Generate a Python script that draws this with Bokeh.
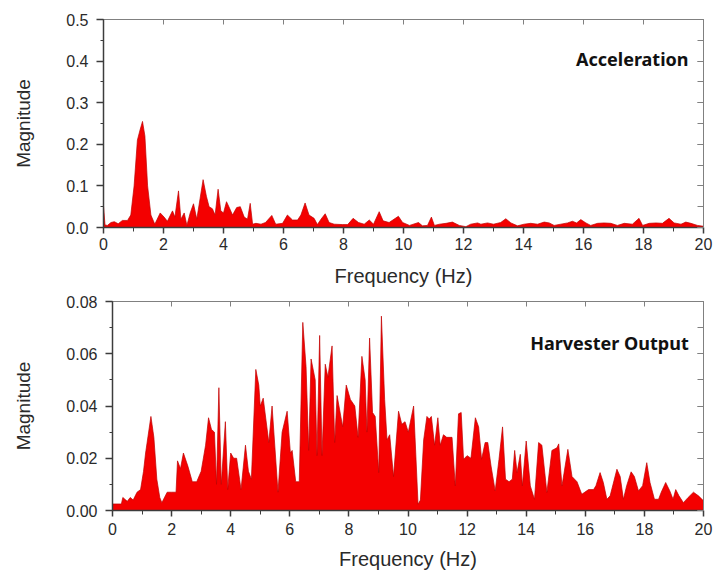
from bokeh.plotting import figure
from bokeh.models import LinearAxis, SingleIntervalTicker, PrintfTickFormatter, Label, Range1d
from bokeh.embed import file_html
from bokeh.resources import INLINE

# ---- Acceleration spectrum (top) ----
acc_freq = [0, 0.05, 0.13, 0.25, 0.36, 0.49, 0.63, 0.8, 0.91, 1.02, 1.13, 1.22, 1.3, 1.38, 1.47,
            1.58, 1.71, 1.89, 2.02, 2.13, 2.3, 2.38, 2.5, 2.58, 2.69, 2.78, 2.89, 3.0, 3.11, 3.22,
            3.32, 3.43, 3.52, 3.63, 3.72, 3.82, 3.91, 4.0, 4.1, 4.21, 4.3, 4.44, 4.56, 4.69, 4.8,
            4.89, 4.97, 5.08, 5.25, 5.4, 5.61, 5.74, 5.97, 6.13, 6.3, 6.47, 6.58, 6.72, 6.85, 7.02,
            7.13, 7.25, 7.39, 7.52, 7.69, 7.97, 8.14, 8.32, 8.5, 8.69, 8.86, 9.0, 9.19, 9.32, 9.52,
            9.83, 9.97, 10.2, 10.5, 10.63, 10.8, 10.93, 11.03, 11.2, 11.42, 11.63, 11.86, 12.08,
            12.24, 12.47, 12.58, 12.8, 13.0, 13.24, 13.41, 13.58, 13.8, 14.02, 14.24, 14.47, 14.69,
            14.86, 15.02, 15.24, 15.47, 15.63, 15.77, 15.91, 16.08, 16.24, 16.47, 16.69, 16.91,
            17.13, 17.36, 17.63, 17.85, 17.97, 18.19, 18.42, 18.63, 18.85, 19.02, 19.25, 19.41,
            19.58, 19.8, 20.0]
acc_mag = [0.052, 0.006, 0.005, 0.012, 0.014, 0.009, 0.017, 0.017, 0.03, 0.10, 0.21, 0.235, 0.255, 0.22, 0.10,
           0.03, 0.008, 0.035, 0.025, 0.015, 0.04, 0.025, 0.088, 0.02, 0.035, 0.005, 0.035, 0.057, 0.02, 0.07,
           0.115, 0.075, 0.05, 0.045, 0.03, 0.092, 0.04, 0.035, 0.062, 0.045, 0.03, 0.048, 0.05, 0.025, 0.02,
           0.058, 0.008, 0.01, 0.008, 0.012, 0.029, 0.008, 0.01, 0.03, 0.018, 0.018, 0.03, 0.059, 0.03, 0.022,
           0.007, 0.02, 0.033, 0.012, 0.008, 0.007, 0.007, 0.022, 0.012, 0.008, 0.018, 0.008, 0.038, 0.016, 0.012,
           0.027, 0.012, 0.005, 0.012, 0.004, 0.005, 0.025, 0.005, 0.008, 0.01, 0.013, 0.005, 0.002,
           0.008, 0.011, 0.008, 0.011, 0.008, 0.012, 0.021, 0.011, 0.004, 0.008, 0.010, 0.008, 0.013,
           0.011, 0.005, 0.008, 0.011, 0.015, 0.011, 0.019, 0.011, 0.005, 0.010, 0.011, 0.010,
           0.005, 0.010, 0.008, 0.022, 0.005, 0.010, 0.011, 0.010, 0.022, 0.011, 0.008, 0.013,
           0.010, 0.005, 0.003]

# ---- Harvester output spectrum (bottom) ----
har_freq = [0, 0.3, 0.35, 0.45, 0.5, 0.6, 0.7, 0.83, 0.95, 1.05, 1.12, 1.3, 1.4, 1.5, 1.6, 1.67, 1.85,
            2.0, 2.15, 2.2, 2.3, 2.4, 2.55, 2.7, 2.85, 3.0, 3.15, 3.25, 3.35, 3.45, 3.52, 3.6, 3.68,
            3.82, 3.9, 4.0, 4.1, 4.2, 4.3, 4.35, 4.5, 4.6, 4.7, 4.85, 4.95, 5.0, 5.1, 5.29, 5.4, 5.6,
            5.74, 5.91, 6.02, 6.08, 6.2, 6.32, 6.44, 6.55, 6.64, 6.72, 6.86, 6.92, 7.01, 7.09, 7.2,
            7.29, 7.43, 7.52, 7.6, 7.79, 7.91, 8.05, 8.2, 8.31, 8.44, 8.55, 8.61, 8.7, 8.8, 8.89,
            9.01, 9.1, 9.21, 9.29, 9.38, 9.51, 9.68, 9.79, 9.9, 10.01, 10.19, 10.34, 10.42, 10.53,
            10.64, 10.72, 10.79, 10.9, 11.01, 11.09, 11.2, 11.31, 11.49, 11.6, 11.71, 11.8, 11.88,
            12.0, 12.13, 12.28, 12.39, 12.49, 12.61, 12.7, 12.81, 12.95, 13.08, 13.2, 13.3, 13.42,
            13.53, 13.61, 13.69, 13.8, 13.87, 14.0, 14.14, 14.28, 14.42, 14.53, 14.7, 14.87, 15.04,
            15.1, 15.21, 15.41, 15.55, 15.72, 15.88, 16.11, 16.28, 16.36, 16.5, 16.61, 16.73, 16.84,
            17.07, 17.18, 17.29, 17.4, 17.55, 17.66, 17.8, 17.94, 18.08, 18.19, 18.34, 18.48, 18.57,
            18.72, 18.86, 18.97, 19.06, 19.17, 19.32, 19.48, 19.66, 19.83, 20.0]
har_mag = [0.0025, 0.0025, 0.005, 0.004, 0.0035, 0.005, 0.004, 0.007, 0.008, 0.015, 0.022, 0.036, 0.028, 0.012, 0.005, 0.003, 0.007,
           0.007, 0.007, 0.019, 0.016, 0.022, 0.017, 0.011, 0.011, 0.015, 0.025, 0.0355, 0.031, 0.030, 0.010, 0.047, 0.010,
           0.034, 0.008, 0.022, 0.020, 0.020, 0.012, 0.008, 0.025, 0.015, 0.012, 0.054, 0.048, 0.040, 0.043, 0.026, 0.040, 0.007,
           0.030, 0.038, 0.022, 0.023, 0.011, 0.011, 0.072, 0.055, 0.023, 0.058, 0.050, 0.021, 0.067, 0.021, 0.056,
           0.051, 0.063, 0.026, 0.044, 0.032, 0.048, 0.0425, 0.040, 0.028, 0.059, 0.050, 0.030, 0.066, 0.0375, 0.036,
           0.0145, 0.0744, 0.0425, 0.027, 0.029, 0.013, 0.038, 0.033, 0.034, 0.030, 0.040, 0.0024, 0.004, 0.027,
           0.036, 0.035, 0.036, 0.025, 0.0355, 0.025, 0.029, 0.028, 0.028, 0.0094, 0.037, 0.0375, 0.0196,
           0.021, 0.020, 0.0355, 0.032, 0.0196, 0.026, 0.026, 0.017, 0.0075, 0.0196, 0.032, 0.012, 0.011,
           0.012, 0.023, 0.0145, 0.0215, 0.0094, 0.0266, 0.0094, 0.0043, 0.026, 0.025, 0.0069, 0.023, 0.024,
           0.0255, 0.0094, 0.0234, 0.013, 0.011, 0.0062, 0.008, 0.008, 0.0095, 0.0145, 0.0107, 0.0043, 0.0056,
           0.0158, 0.013, 0.0043, 0.0095, 0.0148, 0.013, 0.0075, 0.0095, 0.0183, 0.0107, 0.0043, 0.0043, 0.007,
           0.0107, 0.0075, 0.0043, 0.008, 0.0056, 0.003, 0.005, 0.007, 0.0056, 0.0037]

FONT = "Liberation Sans"
AX_DARK = "#3c3c3c"
AX_LIGHT = "#808080"
TXT = "#2a2a2a"


def make_panel(freq, mag, ymax, yint, yfmt, label, label_y, label_size, w, h, left, top, bottom,
               y_label_standoff, x_tick_standoff, x_label_standoff):
    p = figure(width=w, height=h, output_backend="svg", toolbar_location=None,
               x_range=Range1d(0, 20), y_range=Range1d(0, ymax),
               min_border_left=left, min_border_right=10, min_border_top=top, min_border_bottom=bottom,
               x_axis_label="Frequency (Hz)", y_axis_label="Magnitude")
    p.background_fill_color = "white"
    p.border_fill_color = "white"
    p.outline_line_color = None
    p.xgrid.visible = False
    p.ygrid.visible = False

    p.varea(x=freq, y1=0, y2=mag, fill_color="#f40000")
    p.line(x=freq, y=mag, line_color="#c00000", line_width=1, line_alpha=0.7)

    xa = p.xaxis[0]
    xa.ticker = SingleIntervalTicker(interval=2, num_minor_ticks=2)
    xa.formatter = PrintfTickFormatter(format="%d")
    ya = p.yaxis[0]
    ya.ticker = SingleIntervalTicker(interval=yint, num_minor_ticks=2)
    ya.formatter = PrintfTickFormatter(format=yfmt)
    for ax in (xa, ya):
        ax.axis_line_color = AX_DARK
        ax.axis_line_width = 1.5
        ax.major_tick_line_color = AX_DARK
        ax.minor_tick_line_color = AX_DARK
        ax.major_tick_line_width = 1.5
        ax.minor_tick_line_width = 1
        ax.major_tick_in = 0
        ax.minor_tick_in = 0
        ax.major_label_text_font = FONT
        ax.major_label_text_font_size = "16px"
        ax.major_label_text_color = TXT
        ax.axis_label_text_font = FONT
        ax.axis_label_text_font_style = "normal"
        ax.axis_label_text_color = TXT
    xa.axis_label_text_font_size = "20px"
    ya.axis_label_text_font_size = "19px"
    xa.major_tick_out = 6
    xa.minor_tick_out = 4
    xa.major_label_standoff = x_tick_standoff
    xa.axis_label_standoff = x_label_standoff
    ya.major_tick_out = 7
    ya.minor_tick_out = 3
    ya.major_label_standoff = 8
    ya.axis_label_standoff = y_label_standoff

    top_ax = LinearAxis(ticker=SingleIntervalTicker(interval=2, num_minor_ticks=2))
    right_ax = LinearAxis(ticker=SingleIntervalTicker(interval=yint, num_minor_ticks=2))
    for ax in (top_ax, right_ax):
        ax.axis_line_color = AX_LIGHT
        ax.axis_line_width = 1
        ax.major_tick_line_color = AX_LIGHT
        ax.minor_tick_line_color = AX_LIGHT
        ax.major_tick_out = 0
        ax.minor_tick_out = 0
        ax.major_label_text_color = None
        ax.major_label_standoff = 0
    top_ax.major_tick_in = 5
    top_ax.minor_tick_line_color = None
    right_ax.major_tick_in = 6
    right_ax.minor_tick_in = 6
    p.add_layout(top_ax, "above")
    p.add_layout(right_ax, "right")

    p.add_layout(Label(x=19.5, y=label_y, text=label, text_align="right", text_baseline="middle",
                       text_font="Noto Sans", text_font_style="bold", text_font_size=label_size,
                       text_color="#111111"))
    return p


p1 = make_panel(acc_freq, acc_mag, 0.5, 0.1, "%.1f", "Acceleration", 0.405, "18px",
                713, 289, 103, 19, 61, 29, 4, 12)
p2 = make_panel(har_freq, har_mag, 0.08, 0.02, "%.2f", "Harvester Output", 0.0642, "18px",
                713, 283, 112, 12, 62, 29, 6, 10)

open("out.html", "w").write(file_html([p1, p2], INLINE))
